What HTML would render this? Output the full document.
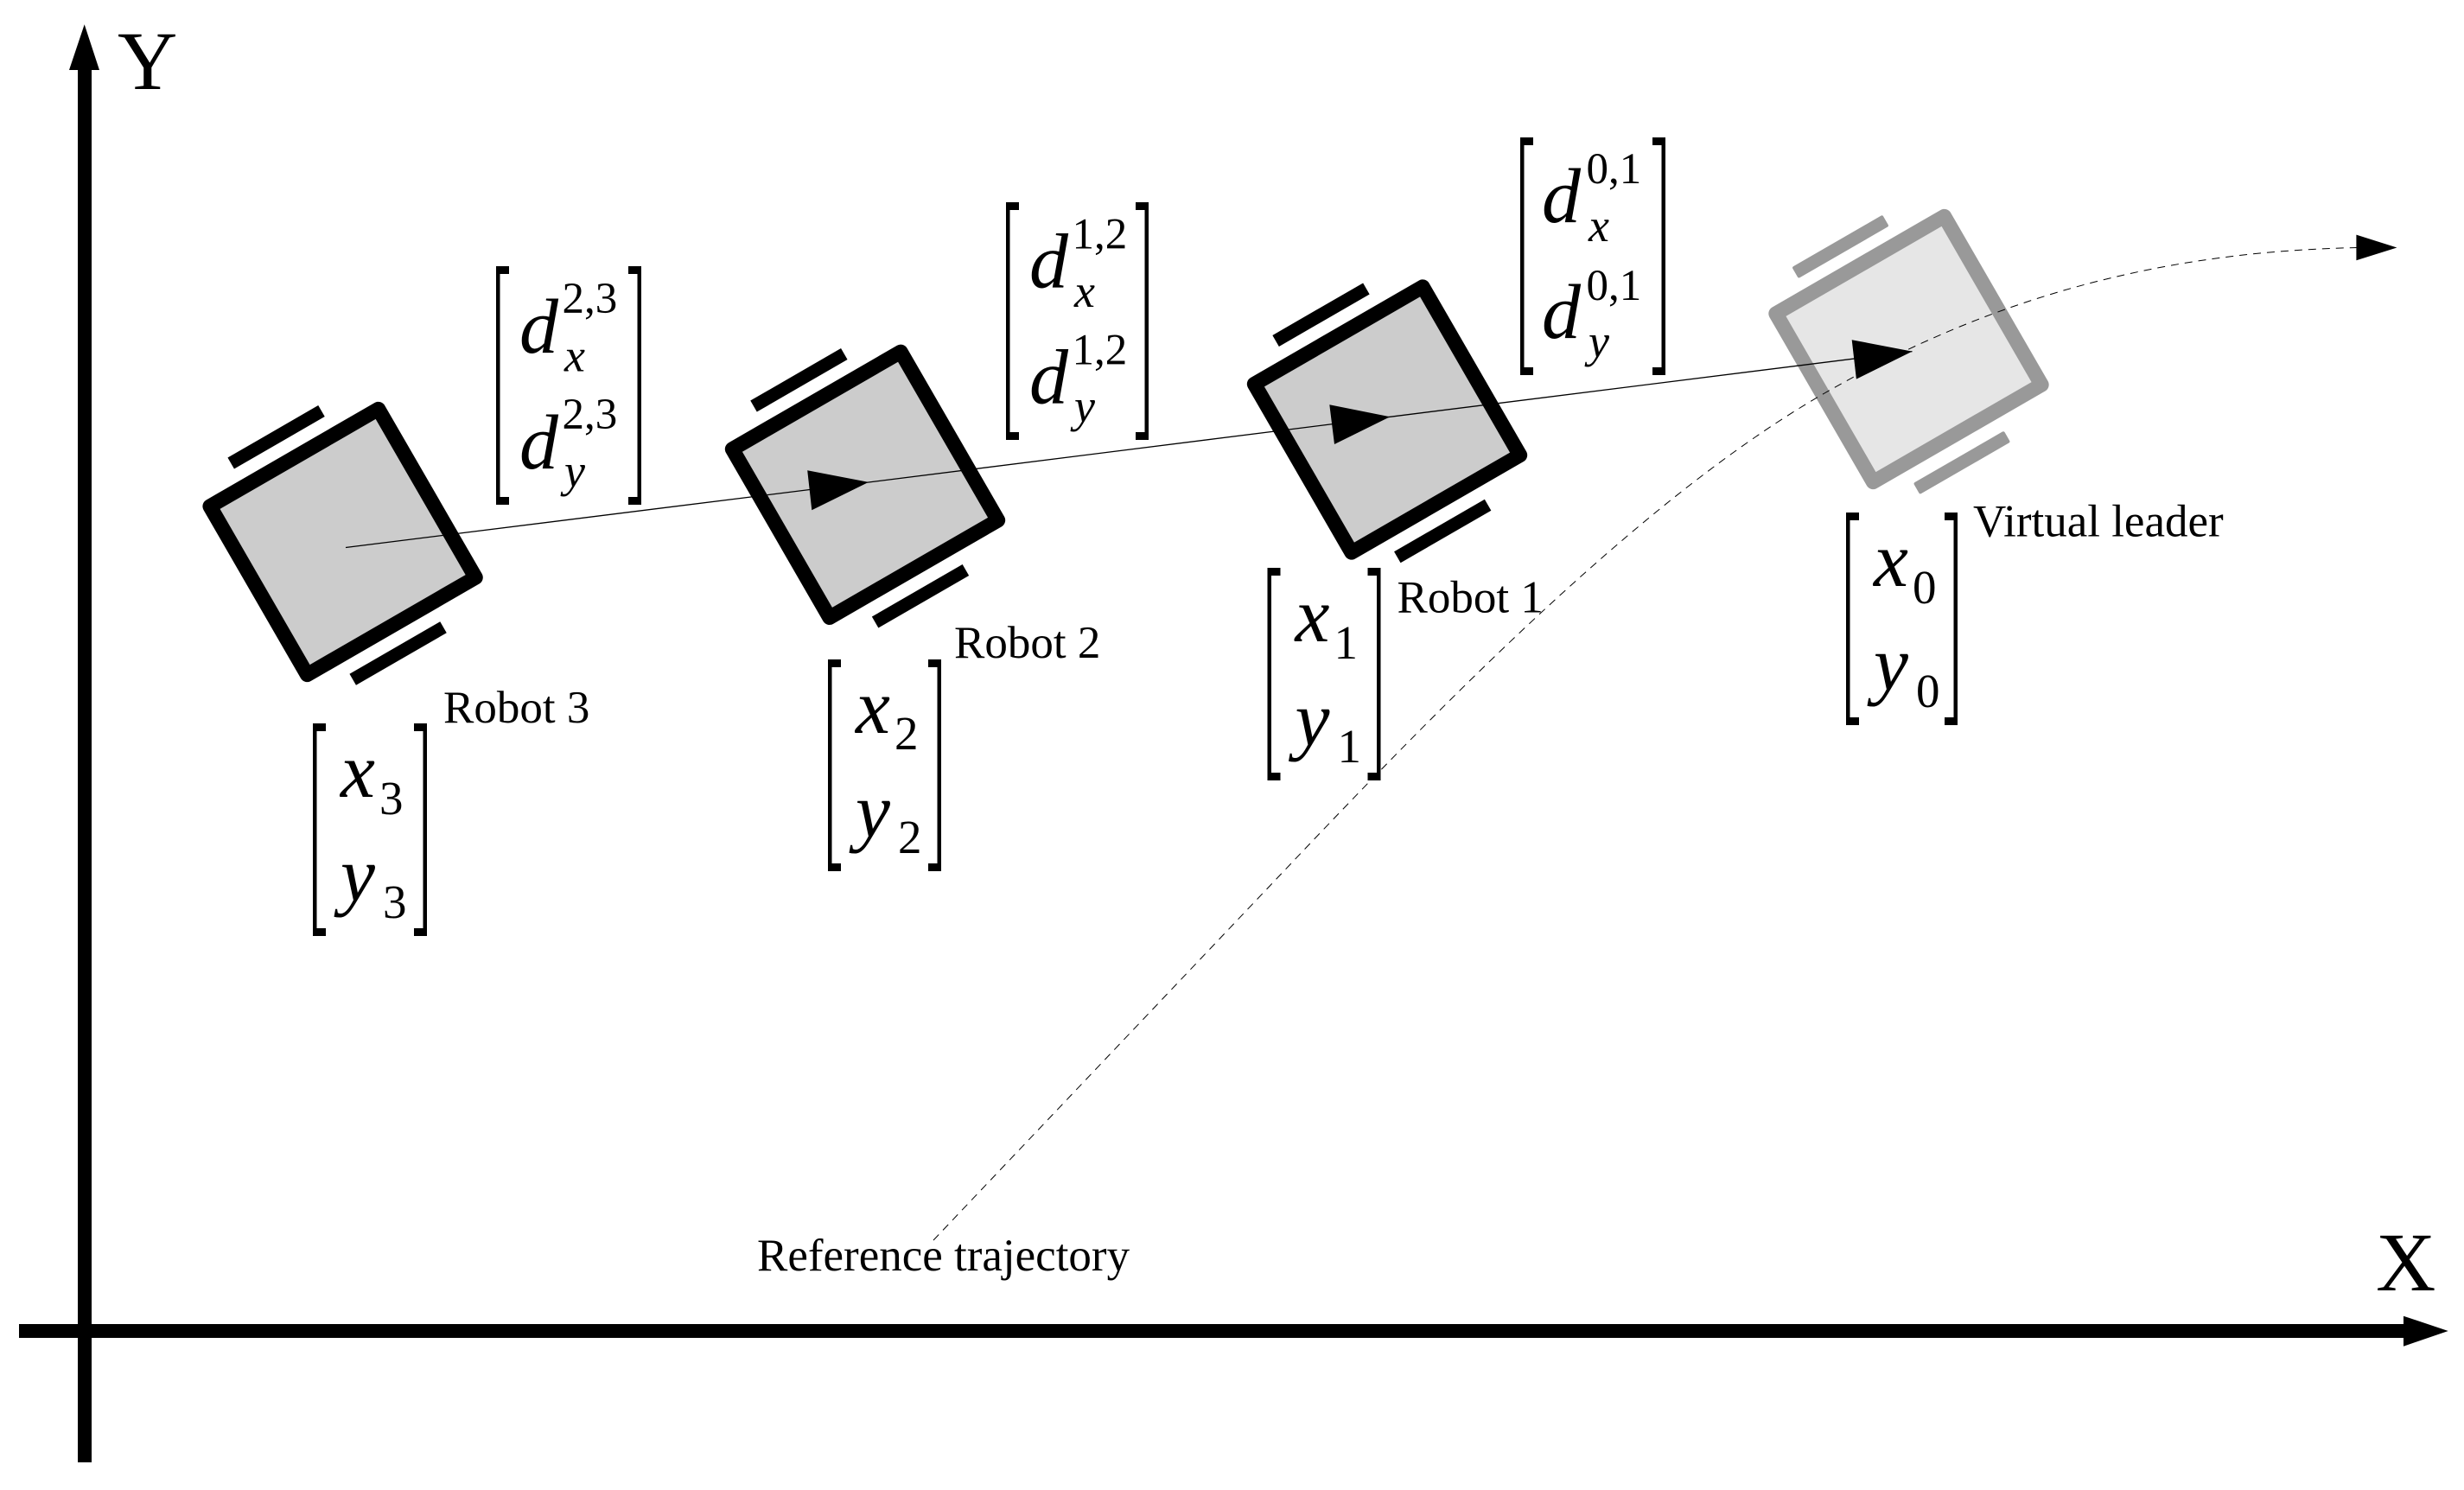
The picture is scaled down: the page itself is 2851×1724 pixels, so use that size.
<!DOCTYPE html>
<html>
<head>
<meta charset="utf-8">
<style>
html,body{margin:0;padding:0;background:#fff;width:2851px;height:1724px;overflow:hidden}
svg{display:block}
text{font-family:"Liberation Serif",serif;fill:#000}
.lab{font-size:53px}
.ax{font-size:96px}
.m{font-size:90px;font-style:italic}
.sup{font-size:51px}
.subi{font-size:54px;font-style:italic}
.subn{font-size:55px}
</style>
</head>
<body>
<svg xmlns="http://www.w3.org/2000/svg" width="2851" height="1724" viewBox="0 0 2851 1724">
<defs>
<g id="robot">
<rect x="-112.5" y="-112.5" width="225" height="225" stroke-width="17" stroke-linejoin="round" transform="rotate(-30)"/>
</g>
</defs>
<rect width="2851" height="1724" fill="#fff"/>

<!-- Axes -->
<rect x="90" y="78" width="16" height="1614" fill="#000"/>
<polygon points="97.7,28.3 80,81 115,81" fill="#000"/>
<rect x="22" y="1532" width="2762" height="16" fill="#000"/>
<polygon points="2832.7,1540 2781,1522.7 2781,1557.7" fill="#000"/>
<text class="ax" x="136" y="103">Y</text>
<text class="ax" x="2749" y="1493">X</text>

<!-- Robots -->
<g fill="#ccc" stroke="#000">
<use href="#robot" transform="translate(396.6,627)"/>
<use href="#robot" transform="translate(1001,560.8)"/>
<use href="#robot" transform="translate(1605,485.5)"/>
</g>
<g fill="#e6e6e6" stroke="#999">
<use href="#robot" transform="translate(2208.5,404)"/>
</g>
<!-- Wheels -->
<g fill="#000">
<rect x="-60.5" y="-7.5" width="121" height="15" transform="translate(319.6,505.8) rotate(-30)"/>
<rect x="-60.5" y="-7.5" width="121" height="15" transform="translate(460.6,756) rotate(-30)"/>
<rect x="-60.5" y="-7.5" width="121" height="15" transform="translate(924.4,439.8) rotate(-30)"/>
<rect x="-60.5" y="-7.5" width="121" height="15" transform="translate(1065,689.8) rotate(-30)"/>
<rect x="-60.5" y="-7.5" width="121" height="15" transform="translate(1528.5,364.2) rotate(-30)"/>
<rect x="-60.5" y="-7.5" width="121" height="15" transform="translate(1669.2,614.5) rotate(-30)"/>
</g>
<g fill="#999">
<rect x="-60.5" y="-7.5" width="121" height="15" rx="2" transform="translate(2129.5,285.4) rotate(-30)"/>
<rect x="-60.5" y="-7.5" width="121" height="15" rx="2" transform="translate(2270,535.3) rotate(-30)"/>
</g>

<!-- Link line -->
<polyline points="400,633.5 1005,558 1608.3,482.3 2212.5,406.6" fill="none" stroke="#000" stroke-width="1.3"/>
<!-- Heading arrows -->
<polygon points="934.2,544.3 1005,557.9 939.3,590.3" fill="#000"/>
<polygon points="1538.3,468.3 1608.3,482.3 1544,514" fill="#000"/>
<polygon points="2142.7,393.2 2212.5,406.6 2147.9,438.6" fill="#000"/>

<!-- Reference trajectory -->
<path d="M1080 1435 L1493 1000 C1693 789 1911 570 2111 455 C2311 340 2508 291 2728 286.5" fill="none" stroke="#000" stroke-width="1" stroke-dasharray="9 7"/>
<polygon points="2726.4,271.6 2773.4,286.5 2726.4,301.3" fill="#000"/>

<!-- Labels -->
<text class="lab" x="513" y="836">Robot 3</text>
<text class="lab" x="1104" y="761">Robot 2</text>
<text class="lab" x="1616.5" y="708.7">Robot 1</text>
<text class="lab" x="2283" y="620.4">Virtual leader</text>
<text class="lab" x="876" y="1470">Reference trajectory</text>

<!-- d matrix 2,3 -->
<g transform="translate(574,308)">
<path d="M0 0H15V9H4.5V267H15V276H0Z M168 0H153V9H163.5V267H153V276H168Z" fill="#000"/>
<text class="m" x="27" y="100">d</text><text class="sup" x="76.5" y="54">2,3</text><text class="subi" x="79" y="121.5">x</text>
<text class="m" x="27" y="234">d</text><text class="sup" x="76.5" y="188">2,3</text><text class="subi" x="79" y="255">y</text>
</g>
<!-- d matrix 1,2 -->
<g transform="translate(1164,234)">
<path d="M0 0H15V9H4.5V266H15V275H0Z M165 0H150V9H160.5V266H150V275H165Z" fill="#000"/>
<text class="m" x="27" y="98.5">d</text><text class="sup" x="76.5" y="53.5">1,2</text><text class="subi" x="79" y="121">x</text>
<text class="m" x="27" y="232.5">d</text><text class="sup" x="76.5" y="187.5">1,2</text><text class="subi" x="79" y="254">y</text>
</g>
<!-- d matrix 0,1 -->
<g transform="translate(1759,159)">
<path d="M0 0H15V9H4.5V266H15V275H0Z M168 0H153V9H163.5V266H153V275H168Z" fill="#000"/>
<text class="m" x="25" y="98">d</text><text class="sup" x="76.5" y="53">0,1</text><text class="subi" x="79" y="120">x</text>
<text class="m" x="25" y="232">d</text><text class="sup" x="76.5" y="188">0,1</text><text class="subi" x="79" y="254">y</text>
</g>

<!-- x3 y3 -->
<g transform="translate(362,837)">
<path d="M0 0H15V9H4.5V237H15V246H0Z M132 0H117V9H127.5V237H117V246H132Z" fill="#000"/>
<text class="m" x="32" y="85">x</text><text class="subn" x="77" y="105">3</text>
<text class="m" x="32" y="205">y</text><text class="subn" x="81" y="225">3</text>
</g>
<!-- x2 y2 -->
<g transform="translate(958,763)">
<path d="M0 0H15V9H4.5V236H15V245H0Z M131 0H116V9H126.5V236H116V245H131Z" fill="#000"/>
<text class="m" x="32" y="85">x</text><text class="subn" x="77" y="104">2</text>
<text class="m" x="32" y="205">y</text><text class="subn" x="81" y="224">2</text>
</g>
<!-- x1 y1 -->
<g transform="translate(1466.5,657)">
<path d="M0 0H15V9H4.5V237H15V246H0Z M131 0H116V9H126.5V237H116V246H131Z" fill="#000"/>
<text class="m" x="32" y="85">x</text><text class="subn" x="77" y="105">1</text>
<text class="m" x="32" y="205">y</text><text class="subn" x="81" y="225">1</text>
</g>
<!-- x0 y0 -->
<g transform="translate(2136,593)">
<path d="M0 0H15V9H4.5V237H15V246H0Z M129 0H114V9H124.5V237H114V246H129Z" fill="#000"/>
<text class="m" x="32" y="85">x</text><text class="subn" x="77" y="105">0</text>
<text class="m" x="32" y="205">y</text><text class="subn" x="81" y="225">0</text>
</g>
</svg>
</body>
</html>
